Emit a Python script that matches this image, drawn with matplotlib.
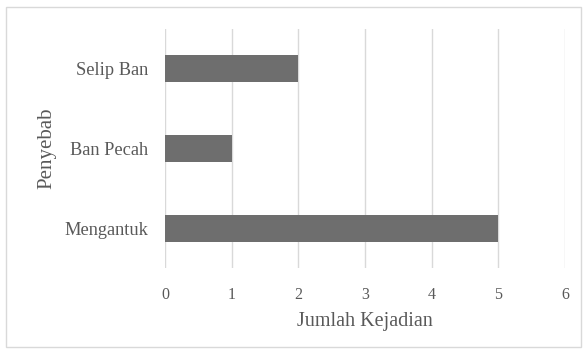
import matplotlib.pyplot as plt
from matplotlib.patches import Rectangle

# data
penyebab = ["Mengantuk", "Ban Pecah", "Selip Ban"]
jumlah = [5, 1, 2]
x_ticks = [0, 1, 2, 3, 4, 5, 6]

plt.rcParams['font.family'] = ['Liberation Serif', 'DejaVu Serif']
txt = "#595959"

fig = plt.figure(figsize=(5.87, 3.54), dpi=100)
# axes: x 165..565 px, y 29..268 px
ax = fig.add_axes([165/587, 1 - 268/354, (565-165)/587, (268-29)/354])

ax.barh(range(len(penyebab)), jumlah, height=0.34, color="#6e6e6e", zorder=3)
ax.set_xlim(0, 6)
ax.set_ylim(-0.5, len(penyebab) - 0.5)
ax.set_xticks(x_ticks)
ax.set_yticks(range(len(penyebab)))
ax.set_yticklabels(penyebab)
ax.grid(axis="x", color="#d9d9d9", linewidth=1, zorder=0)
for s in ax.spines.values():
    s.set_visible(False)
ax.tick_params(axis="x", length=0, labelsize=11.5, colors=txt, pad=14)
ax.tick_params(axis="y", length=0, labelsize=13.2, colors=txt, pad=12)
ax.set_xlabel("Jumlah Kejadian", fontsize=14.5, color=txt, labelpad=6)
ax.set_ylabel("Penyebab", fontsize=15, color=txt, labelpad=6)

# outer border
fig.patches.append(Rectangle((6/587, 7/354), 575/587, 340/354, transform=fig.transFigure,
                             fill=False, edgecolor="#d9d9d9", linewidth=1))

fig.savefig("out.png", dpi=100)
